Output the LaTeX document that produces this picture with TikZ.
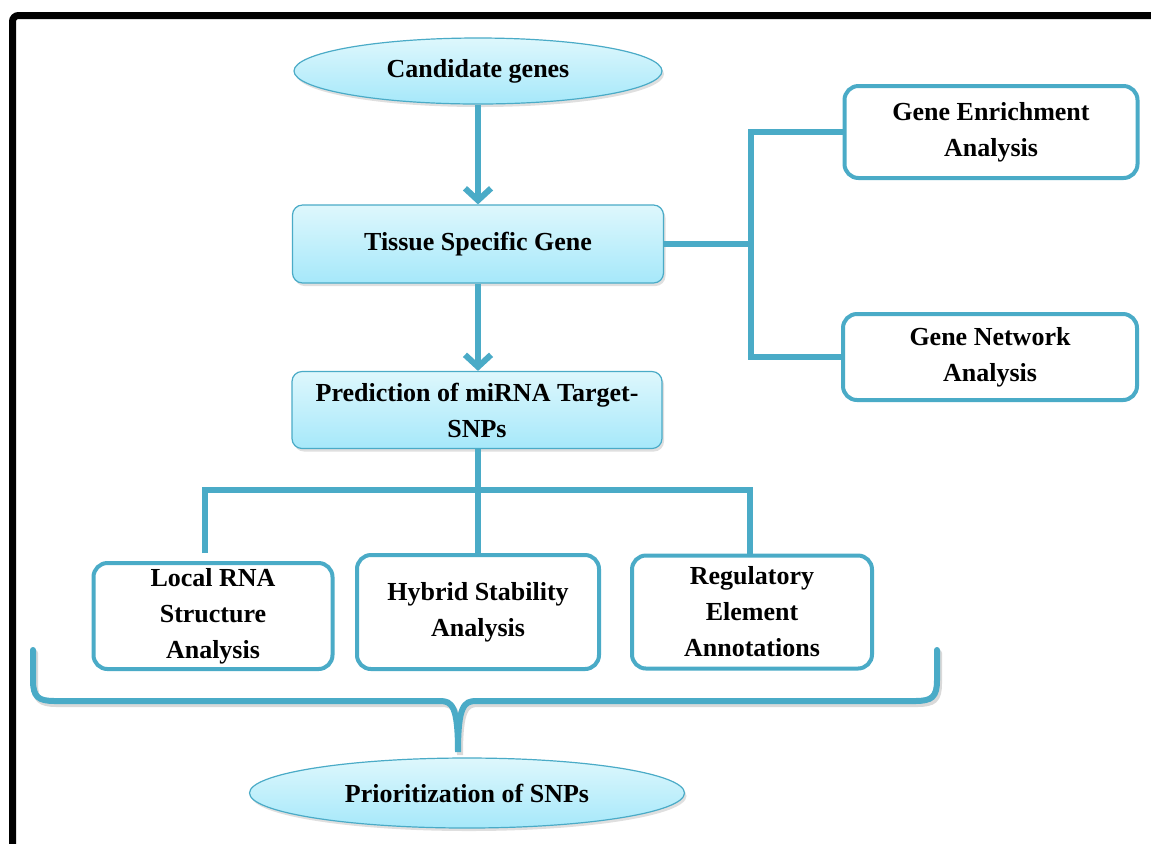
\documentclass[tikz,border=0pt]{standalone}
\usepackage{fontspec}
\setmainfont{Liberation Serif}
\definecolor{edge}{rgb}{0.29,0.67,0.78}
\definecolor{skytop}{rgb}{0.87,0.97,0.99}
\definecolor{skybot}{rgb}{0.65,0.91,0.98}
\usetikzlibrary{positioning,calc,arrows.meta,shapes.geometric,shadows}

\begin{document}
\begin{tikzpicture}[x=0.5pt, y=-0.5pt,
    every node/.style={font=\fontsize{13}{18}\selectfont\bfseries, align=center, inner sep=0pt},
    sky/.style={top color=skytop, bottom color=skybot, draw=edge, line width=0.6pt,
      drop shadow={opacity=0.25, shadow xshift=1pt, shadow yshift=-1.5pt}},
    oval/.style={sky, ellipse},
    bluebox/.style={sky, rectangle, rounded corners=5pt},
    whitebox/.style={rectangle, rounded corners=7pt, draw=edge, line width=2pt, fill=white},
    link/.style={draw=edge, line width=3pt},
    arr/.style={link, -{Straight Barb[length=6pt, width=13pt, line width=3pt]}}]
    \clip (0,0) rectangle (1151,843);
    \fill[white] (0,0) rectangle (1151,843);
    \draw[line width=3.5pt, rounded corners=3pt] (12.5,900) -- (12.5,15.5) -- (1200,15.5);

    \node[oval, minimum width=184pt, minimum height=33pt] (cand) at (478,71) {Candidate genes};
    \node[bluebox, minimum width=185.5pt, minimum height=39pt] (tsg) at (478,244) {Tissue Specific Gene};
    \node[bluebox, minimum width=185pt, minimum height=38.5pt] (pred) at (477,410) {Prediction of miRNA Target-\\SNPs};
    \node[whitebox, minimum width=146.5pt, minimum height=46pt] (gea) at (991,132) {Gene Enrichment\\Analysis};
    \node[whitebox, minimum width=147pt, minimum height=43pt] (gna) at (990,357) {Gene Network\\Analysis};
    \node[whitebox, minimum width=119.5pt, minimum height=53pt] (lrna) at (213,616) {Local RNA\\Structure\\Analysis};
    \node[whitebox, minimum width=121pt, minimum height=57pt] (hyb) at (478,612) {Hybrid Stability\\Analysis};
    \node[whitebox, minimum width=120pt, minimum height=56.5pt] (reg) at (752,612) {Regulatory\\Element\\Annotations};
    \node[oval, minimum width=217.5pt, minimum height=35pt] (prio) at (467,793) {Prioritization of SNPs};

    \draw[arr] (cand.south) -- (tsg.north);
    \draw[arr] (tsg.south) -- ($(pred.north)+(1,0)$);

    \coordinate (rj) at ($(tsg.east)+(87,0)$);
    \draw[link] (tsg.east) -- (rj);
    \draw[link] (gea.west) -| (rj) |- (gna.west);

    \coordinate (bj) at ($(pred.south)+(1,41)$);
    \coordinate (lt) at ($(lrna.north)+(-8,-8)$);
    \draw[link] ($(pred.south)+(1,0)$) -- (bj);
    \draw[link] (bj) -- (hyb.north);
    \draw[link] (lt) |- (bj) -| ($(reg.north)+(-2,0)$);

    \coordinate (tip) at ($(prio.north)+(-9,-6)$);
    \foreach \col/\dx/\dy in {black!15/2/3, edge/0/0}
      \draw[draw=\col, line width=3pt, line cap=round, shift={(\dx,\dy)}]
        (33,650) -- (33,680) .. controls (33,697) and (38,701) .. (55,701)
        -- (440,701) .. controls (452,701) and (458,706) .. (458,752)
        .. controls (458,706) and (464,701) .. (476,701)
        -- (915,701) .. controls (932,701) and (937,697) .. (937,680) -- (937,650);
\end{tikzpicture}
\end{document}
